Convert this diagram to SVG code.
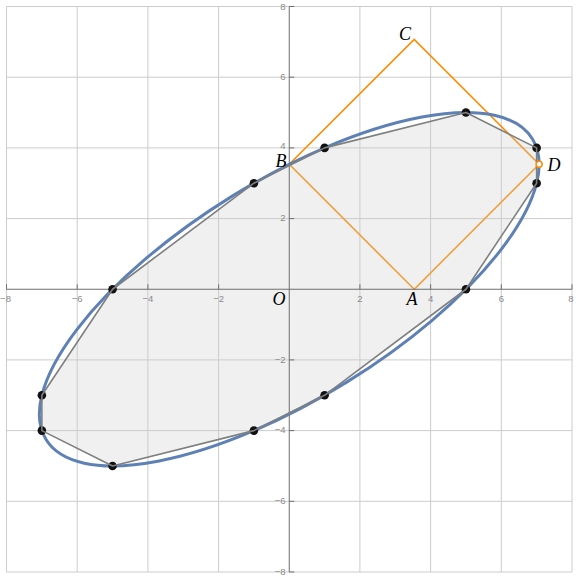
<svg xmlns="http://www.w3.org/2000/svg" width="576" height="580" viewBox="0 0 576 580">
<style>
.grid{stroke:#cccccc;stroke-width:1;fill:none}
.axis{stroke:#6e6e6e;stroke-width:1;fill:none}
.tick{font-family:"Liberation Sans",Arial,sans-serif;font-size:9.5px;fill:#8a8a8a}
.lbl{font-family:"Liberation Serif","Times New Roman",serif;font-style:italic;font-size:18px;fill:#000}
.sq{stroke:#ff8c00;stroke-width:1.6;fill:none}
.dot{fill:#111}
</style>
<rect width="576" height="580" fill="#fff"/>
<g id="grid" class="grid">
<path d="M6.5,6.5V572M77.2,6.5V572M147.9,6.5V572M218.6,6.5V572M359.9,6.5V572M430.6,6.5V572M501.3,6.5V572M572,6.5V572"/>
<path d="M6.5,6.5H572M6.5,77.2H572M6.5,147.9H572M6.5,218.6H572M6.5,359.9H572M6.5,430.6H572M6.5,501.3H572M6.5,572H572"/>
</g>
<g id="square" class="sq">
<polygon points="414.2,289.25 289.25,164.3 414.2,39.36 539.15,164.3"/>
</g>
<g id="polygon-fill">
<polygon points="465.95,112.55 536.63,147.89 536.63,183.23 465.95,289.25 324.59,395.27 253.91,430.61 112.55,465.95 41.87,430.61 41.87,395.27 112.55,289.25 253.91,183.23 324.59,147.89" fill="#cccccc" fill-opacity="0.3" stroke="none"/>
</g>
<g id="axes" class="axis">
<path d="M6.5,289.25H572M289.25,6.5V572"/>
<path d="M6.5,289.25v-5M77.2,289.25v-5M147.9,289.25v-5M218.6,289.25v-5M359.9,289.25v-5M430.6,289.25v-5M501.3,289.25v-5M572,289.25v-5"/>
<path d="M289.25,6.5h5M289.25,77.2h5M289.25,147.9h5M289.25,218.6h5M289.25,359.9h5M289.25,430.6h5M289.25,501.3h5M289.25,572h5"/>
</g>
<g id="tick-labels" class="tick">
<text x="5.5" y="301.5" text-anchor="middle">−8</text>
<text x="77.2" y="301.5" text-anchor="middle">−6</text>
<text x="147.9" y="301.5" text-anchor="middle">−4</text>
<text x="218.6" y="301.5" text-anchor="middle">−2</text>
<text x="359.9" y="301.5" text-anchor="middle">2</text>
<text x="430.6" y="301.5" text-anchor="middle">4</text>
<text x="501.3" y="301.5" text-anchor="middle">6</text>
<text x="571" y="301.5" text-anchor="middle">8</text>
<text x="285.5" y="10" text-anchor="end">8</text>
<text x="285.5" y="80" text-anchor="end">6</text>
<text x="285.5" y="148.5" text-anchor="end">4</text>
<text x="285.5" y="221.4" text-anchor="end">2</text>
<text x="285.5" y="362.7" text-anchor="end">−2</text>
<text x="285.5" y="433.4" text-anchor="end">−4</text>
<text x="285.5" y="504.1" text-anchor="end">−6</text>
<text x="285.5" y="575" text-anchor="end">−8</text>
</g>
<g id="ellipse">
<ellipse cx="289.25" cy="289.25" rx="285.91" ry="109.21" transform="rotate(-31.717 289.25 289.25)" fill="none" stroke="#5e81b5" stroke-width="3"/>
</g>
<g id="points" class="dot">
<circle cx="465.95" cy="112.55" r="4.3"/>
<circle cx="536.63" cy="147.89" r="4.3"/>
<circle cx="536.63" cy="183.23" r="4.3"/>
<circle cx="465.95" cy="289.25" r="4.3"/>
<circle cx="324.59" cy="395.27" r="4.3"/>
<circle cx="253.91" cy="430.61" r="4.3"/>
<circle cx="112.55" cy="465.95" r="4.3"/>
<circle cx="41.87" cy="430.61" r="4.3"/>
<circle cx="41.87" cy="395.27" r="4.3"/>
<circle cx="112.55" cy="289.25" r="4.3"/>
<circle cx="253.91" cy="183.23" r="4.3"/>
<circle cx="324.59" cy="147.89" r="4.3"/>
</g>
<g id="connectors">
<polygon points="465.95,112.55 536.63,147.89 536.63,183.23 465.95,289.25 324.59,395.27 253.91,430.61 112.55,465.95 41.87,430.61 41.87,395.27 112.55,289.25 253.91,183.23 324.59,147.89" fill="none" stroke="#7f7f7f" stroke-width="1.6" stroke-linejoin="round"/>
</g>
<g id="point-D">
<circle cx="539.15" cy="164.3" r="3" fill="#fff" stroke="#ff8c00" stroke-width="1.5"/>
</g>
<g id="labels" class="lbl">
<text x="405" y="39.5" text-anchor="middle">C</text>
<text x="281" y="167" text-anchor="middle">B</text>
<text x="554" y="171" text-anchor="middle">D</text>
<text x="412" y="305" text-anchor="middle">A</text>
<text x="279" y="305" text-anchor="middle">O</text>
</g>
</svg>
